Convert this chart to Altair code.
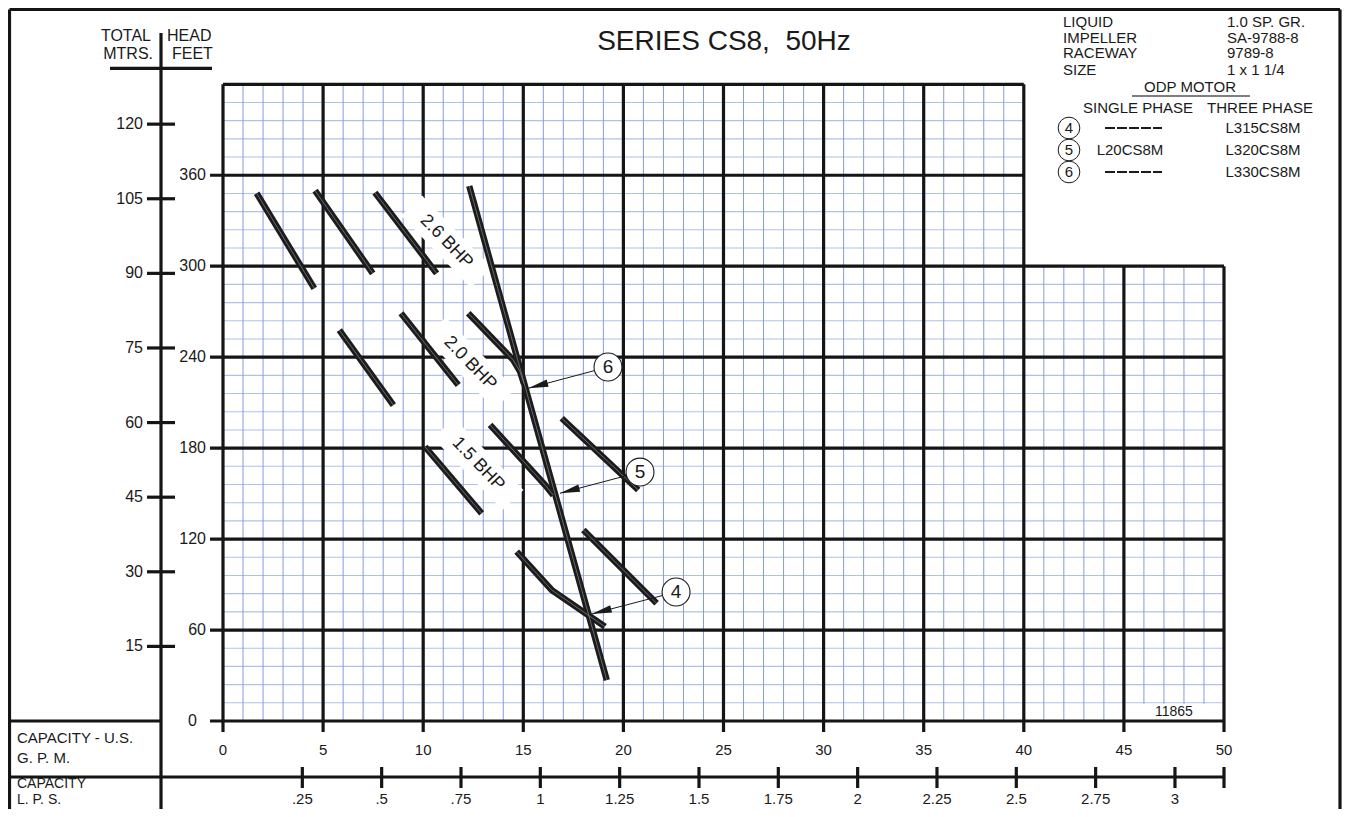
import math
import altair as alt
import pandas as pd

# ---------------- values ----------------
GPM_TICKS = [0, 5, 10, 15, 20, 25, 30, 35, 40, 45, 50]
FEET_TICKS = [0, 60, 120, 180, 240, 300, 360]
MTR_TICKS = [15, 30, 45, 60, 75, 90, 105, 120]
LPS_TICKS = [0.25, 0.5, 0.75, 1.0, 1.25, 1.5, 1.75, 2.0, 2.25, 2.5, 2.75, 3.0]
LPS_LABELS = [".25", ".5", ".75", "1", "1.25", "1.5", "1.75", "2", "2.25", "2.5", "2.75", "3"]

# curve segments: (gpm list, feet list)
SEG_A_X = [1.68, 4.56];            SEG_A_Y = [348.1, 285.4]
SEG_B_X = [4.60, 7.48];            SEG_B_Y = [349.8, 295.3]
SEG_C_X = [7.59, 10.67];           SEG_C_Y = [348.5, 295.3]
SEG_D_X = [5.81, 8.51];            SEG_D_Y = [257.9, 208.4]
SEG_E_X = [8.89, 11.75];           SEG_E_Y = [268.9, 221.6]
SEG_F_X = [12.25, 14.50, 14.84, 15.03]; SEG_F_Y = [269.0, 238.1, 230.4, 222.7]
SEG_H_X = [10.09, 12.92];          SEG_H_Y = [180.9, 137.0]
SEG_I_X = [13.34, 16.10, 16.50];   SEG_I_Y = [195.3, 155.5, 149.0]
SEG_J_X = [16.92, 20.74];          SEG_J_Y = [199.7, 152.4]
SEG_K_X = [18.00, 21.66];          SEG_K_Y = [126.0, 77.6]
SEG_L_X = [14.67, 16.42, 19.08];   SEG_L_Y = [111.7, 86.4, 62.2]
SEG_S_X = [12.30, 15.00, 16.67, 19.17]; SEG_S_Y = [352.9, 224.9, 145.8, 27.0]

# BHP labels
BHP_TEXT = ["2.6 BHP", "2.0 BHP", "1.5 BHP"]
BHP_X = [11.16, 12.34, 12.75]
BHP_Y = [316.2, 236.0, 169.5]

# model callouts
MODEL_NUM = ["6", "5", "4"]
MODEL_CX = [19.23, 20.83, 22.63]
MODEL_CY = [233.5, 164.2, 85.1]
MODEL_TIPX = [15.25, 16.83, 18.42]
MODEL_TIPY = [219.5, 150.2, 70.6]

INFO_LABELS = ["LIQUID", "IMPELLER", "RACEWAY", "SIZE"]
INFO_VALUES = ["1.0 SP. GR.", "SA-9788-8", "9789-8", "1 x 1 1/4"]
MOTOR_NUM = ["4", "5", "6"]
MOTOR_SINGLE = ["", "L20CS8M", ""]
MOTOR_THREE = ["L315CS8M", "L320CS8M", "L330CS8M"]
TITLE = "SERIES CS8,\u00a0 50Hz"

# ---------------- layout ----------------
W, H = 1334, 801
PAGE = 8
X0, SX = 223.0, 20.02      # page px of 0 gpm, px per gpm
Y0, SY = 721.0, 1.516      # page px of 0 ft, px per ft
FT_PER_M = 3.28084
GPM_PER_LPS = 15.8503

def gx(px):
    return (px - X0) / SX

def gy(py):
    return (Y0 - py) / SY

XS = alt.Scale(domain=[gx(PAGE), gx(PAGE + W)], nice=False, zero=False)
YS = alt.Scale(domain=[gy(PAGE + H), gy(PAGE)], nice=False, zero=False)
FONT = "Liberation Sans"


def rules(rows, color, width, dash=None):
    df = pd.DataFrame(rows, columns=["x", "y", "x2", "y2"])
    kw = dict(color=color, strokeWidth=width)
    if dash:
        kw["strokeDash"] = dash
    return alt.Chart(df).mark_rule(**kw).encode(
        x=alt.X("x:Q", scale=XS, axis=None),
        y=alt.Y("y:Q", scale=YS, axis=None),
        x2="x2:Q", y2="y2:Q")


def texts(rows, size, align="center", baseline="middle", angle=0, weight="normal"):
    df = pd.DataFrame(rows, columns=["x", "y", "t"])
    return alt.Chart(df).mark_text(
        font=FONT, fontSize=size, align=align, baseline=baseline,
        angle=angle, color="#1a1a1a", fontWeight=weight).encode(
        x=alt.X("x:Q", scale=XS, axis=None),
        y=alt.Y("y:Q", scale=YS, axis=None),
        text="t:N")


layers = []

# ---- minor grid ----
vminor = []
for g in range(0, 51):
    if g % 5 == 0:
        continue
    top = 420 if g < 40 else 300
    vminor.append([g, 0, g, top])
hminor = []
for k in range(1, 35):
    f = 12 * k
    if f % 60 == 0:
        continue
    right = 50 if f < 300 else 40
    hminor.append([0, f, right, f])
layers.append(rules(hminor, "#b0c0e8", 1.1))
layers.append(rules(vminor, "#859cda", 1.0))

# blank cell for drawing number
blank = pd.DataFrame({"x": [45.1], "x2": [49.9], "y": [0.8], "y2": [11.4]})
layers.append(alt.Chart(blank).mark_rect(color="white").encode(
    x=alt.X("x:Q", scale=XS, axis=None), x2="x2:Q",
    y=alt.Y("y:Q", scale=YS, axis=None), y2="y2:Q"))

# ---- major grid ----
ytick = gy(732)
vmajor = []
for g in GPM_TICKS:
    top = 420 if g <= 40 else 300
    vmajor.append([g, ytick, g, top])
hmajor = []
for f in FEET_TICKS:
    right = 50 if f <= 300 else 40
    hmajor.append([gx(210), f, right, f])
hmajor.append([0, 420, 40, 420])
layers.append(rules(vmajor, "#151515", 3.2))
layers.append(rules(hmajor, "#151515", 3.2))

# ---- frame, left axis, bottom axes ----
frame = [
    [gx(9.5), gy(9.5), gx(1340), gy(9.5)],
    [gx(9.5), gy(9.5), gx(9.5), gy(PAGE + H)],
    [gx(1340), gy(9.5), gx(1340), gy(PAGE + H)],
    [gx(161), gy(33), gx(161), gy(PAGE + H)],
    [gx(110), gy(68.3), gx(212), gy(68.3)],
    [gx(9.5), 0, gx(161), 0],
    [gx(9.5), gy(777), 50, gy(777)],
]
for m in MTR_TICKS:
    frame.append([gx(147), m * FT_PER_M, gx(175), m * FT_PER_M])
for l in LPS_TICKS:
    frame.append([l * GPM_PER_LPS, gy(767), l * GPM_PER_LPS, gy(788)])
frame.append([50, gy(767), 50, gy(788)])
layers.append(rules(frame, "#151515", 3.2))

# ---- BHP label backgrounds ----
bhp = pd.DataFrame({"x": BHP_X, "y": BHP_Y, "t": BHP_TEXT})
layers.append(alt.Chart(bhp).mark_point(
    shape="M-1,-0.29L1,-0.29L1,0.29L-1,0.29Z", size=10000, angle=46,
    filled=True, color="white", opacity=1, strokeWidth=0).encode(
    x=alt.X("x:Q", scale=XS, axis=None), y=alt.Y("y:Q", scale=YS, axis=None)))

# ---- curves ----
segs = [("A", SEG_A_X, SEG_A_Y), ("B", SEG_B_X, SEG_B_Y), ("C", SEG_C_X, SEG_C_Y),
        ("D", SEG_D_X, SEG_D_Y), ("E", SEG_E_X, SEG_E_Y), ("F", SEG_F_X, SEG_F_Y),
        ("H", SEG_H_X, SEG_H_Y), ("I", SEG_I_X, SEG_I_Y), ("J", SEG_J_X, SEG_J_Y),
        ("K", SEG_K_X, SEG_K_Y), ("L", SEG_L_X, SEG_L_Y), ("S", SEG_S_X, SEG_S_Y)]
crow = []
for name, xs, ys in segs:
    for i, (a, b) in enumerate(zip(xs, ys)):
        crow.append({"seg": name, "i": i, "x": a, "y": b})
cdf = pd.DataFrame(crow)
layers.append(alt.Chart(cdf).mark_line(color="#1c1c1c", strokeWidth=6.4, strokeJoin="round").encode(
    x=alt.X("x:Q", scale=XS, axis=None), y=alt.Y("y:Q", scale=YS, axis=None),
    detail="seg:N", order="i:Q"))
layers.append(alt.Chart(cdf).mark_line(color="#8a8a8a", strokeWidth=0.7, strokeJoin="round").encode(
    x=alt.X("x:Q", scale=XS, axis=None), y=alt.Y("y:Q", scale=YS, axis=None),
    detail="seg:N", order="i:Q"))

# ---- BHP labels ----
layers.append(texts([[a, b, t] for a, b, t in zip(BHP_X, BHP_Y, BHP_TEXT)], 18, angle=46))

# ---- callouts ----
arrows = []
heads = []
for cx, cy, tx, ty in zip(MODEL_CX, MODEL_CY, MODEL_TIPX, MODEL_TIPY):
    arrows.append([cx, cy, tx, ty])
    dx = (tx - cx) * SX
    dy = -(ty - cy) * SY
    ang = math.degrees(math.atan2(dy, dx)) % 360
    heads.append({"x": tx, "y": ty, "ang": ang})
layers.append(rules(arrows, "#1a1a1a", 1.0))
hdf = pd.DataFrame(heads)
layers.append(alt.Chart(hdf).mark_point(
    shape="M0,0L-1,-0.19L-1,0.19Z", size=1600, filled=True, color="#1a1a1a",
    opacity=1, strokeWidth=0).encode(
    x=alt.X("x:Q", scale=XS, axis=None), y=alt.Y("y:Q", scale=YS, axis=None),
    angle=alt.Angle("ang:Q", scale=None)))
cdf2 = pd.DataFrame({"x": MODEL_CX, "y": MODEL_CY, "t": MODEL_NUM})
layers.append(alt.Chart(cdf2).mark_point(
    shape="circle", size=780, filled=False, fill="white", fillOpacity=1,
    stroke="#1a1a1a", strokeWidth=1.1, opacity=1).encode(
    x=alt.X("x:Q", scale=XS, axis=None), y=alt.Y("y:Q", scale=YS, axis=None)))
layers.append(texts([[a, b, t] for a, b, t in zip(MODEL_CX, MODEL_CY, MODEL_NUM)], 19))

# ---- axis labels ----
layers.append(texts([[gx(206), f, str(f)] for f in FEET_TICKS if f > 0] + [[gx(197), 0, "0"]],
                    16, align="right"))
layers.append(texts([[gx(143), m * FT_PER_M, str(m)] for m in MTR_TICKS], 16, align="right"))
layers.append(texts([[g, gy(750), str(g)] for g in GPM_TICKS], 15))
layers.append(texts([[l * GPM_PER_LPS, gy(799), s] for l, s in zip(LPS_TICKS, LPS_LABELS)], 15))
layers.append(texts([[47.5, gy(711.5), "11865"]], 14))

# ---- header / left box text ----
layers.append(texts([[gx(151), gy(36), "TOTAL"], [gx(153), gy(53.5), "MTRS."]], 16, align="right"))
layers.append(texts([[gx(167), gy(36), "HEAD"], [gx(172), gy(53.5), "FEET"]], 16, align="left"))
layers.append(texts([[gx(17), gy(738), "CAPACITY - U.S."], [gx(17), gy(758), "G. P. M."]],
                    15, align="left"))
layers.append(texts([[gx(17), gy(784), "CAPACITY"], [gx(17), gy(799.5), "L. P. S."]],
                    14, align="left"))
layers.append(texts([[gx(724), gy(42), TITLE]], 28))

# ---- info block ----
iy = [21.7, 37.7, 53.3, 70.0]
layers.append(texts([[gx(1063), gy(y), t] for y, t in zip(iy, INFO_LABELS)], 15, align="left"))
layers.append(texts([[gx(1227), gy(y), t] for y, t in zip(iy, INFO_VALUES)], 15, align="left"))
layers.append(texts([[gx(1190), gy(87), "ODP MOTOR"]], 15))
layers.append(rules([[gx(1132), gy(96), gx(1250), gy(96)]], "#555555", 1.3))
layers.append(texts([[gx(1138), gy(108), "SINGLE PHASE"], [gx(1260), gy(108), "THREE PHASE"]], 15))
my = [128, 150, 172]
ldf = pd.DataFrame({"x": [gx(1069)] * 3, "y": [gy(v) for v in my]})
layers.append(alt.Chart(ldf).mark_point(
    shape="circle", size=470, filled=False, stroke="#1a1a1a", strokeWidth=1.0, opacity=1).encode(
    x=alt.X("x:Q", scale=XS, axis=None), y=alt.Y("y:Q", scale=YS, axis=None)))
layers.append(texts([[gx(1069), gy(v), n] for v, n in zip(my, MOTOR_NUM)], 15))
dash_rows = [[gx(1105), gy(v), gx(1162), gy(v)] for v, s in zip(my, MOTOR_SINGLE) if s == ""]
layers.append(rules(dash_rows, "#1a1a1a", 2.0, dash=[10, 2]))
layers.append(texts([[gx(1130), gy(v), s] for v, s in zip(my, MOTOR_SINGLE) if s], 15))
layers.append(texts([[gx(1263), gy(v), s] for v, s in zip(my, MOTOR_THREE)], 15))

chart = alt.layer(*layers).properties(
    width=W, height=H, autosize=alt.AutoSizeParams(type="none"), padding=0,
    background="white"
).configure_view(stroke=None)

chart.save("out.html", embed_options={"renderer": "svg", "actions": False})
